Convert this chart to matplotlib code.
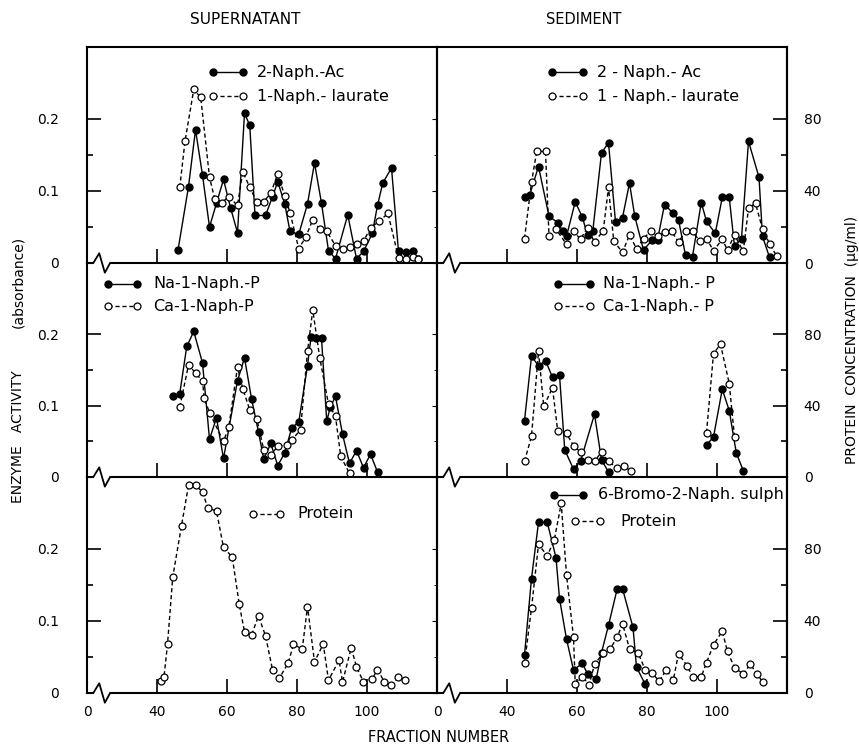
#!/usr/bin/env python3

"""
Enzyme activity and protein concentration of the supernatant and sediment
fractions, plotted against the fraction number.
"""

import matplotlib
matplotlib.use("Agg")
import matplotlib.pyplot as plt

# Supernatant, 2-Naph.-Ac (absorbance)
sup_ac_x = [46, 49, 51, 53, 55, 57, 59, 61, 63, 65, 66.5, 68, 71, 73, 74.5,
            76.5, 78, 80.5, 83, 85, 87, 89, 91, 94.5, 97, 99, 101.5, 103,
            104.5, 107, 109, 111, 113, 114.5]
sup_ac_y = [.018, .106, .185, .122, .050, .083, .116, .077, .042, .208, .191,
            .066, .066, .092, .113, .082, .044, .040, .082, .139, .083, .017,
            .006, .067, .006, .016, .041, .080, .111, .132, .016, .015, .016,
            .006]

# Supernatant, 1-Naph.-laurate
sup_lau_x = [46.5, 48, 50.5, 52.5, 55, 56.5, 58.5, 60.5, 63, 64.5, 66.5,
             68.5, 70.5, 72.5, 74.5, 76.5, 78, 80.5, 82.5, 84.5, 86.5, 88.5,
             91, 93, 95, 97, 99, 101, 103.5, 106, 109, 111, 113, 114.5]
sup_lau_y = [.105, .169, .241, .230, .119, .089, .084, .092, .080, .127, .105,
             .085, .085, .097, .124, .093, .070, .020, .036, .060, .047, .044,
             .024, .020, .022, .027, .030, .049, .058, .069, .007, .006, .008,
             .006]

# Sediment, 2-Naph.-Ac
sed_ac_x = [45, 46.5, 49, 52, 54.5, 56, 57, 59.5, 61.5, 63, 64.5, 67, 69, 71,
            73, 75, 76.5, 79, 81.5, 83, 85, 87.5, 89, 91, 93, 95.5, 97, 99.5,
            101.5, 103.5, 105, 107, 109, 112, 113, 115]
sed_ac_y = [.092, .095, .134, .065, .056, .044, .037, .085, .064, .039, .044,
            .153, .167, .057, .063, .111, .065, .018, .032, .032, .081, .069,
            .060, .011, .009, .084, .058, .041, .091, .091, .023, .034, .169,
            .119, .037, .008]

# Sediment, 1-Naph.-laurate
sed_lau_x = [45, 47, 48.5, 51, 52, 54, 57, 59, 61, 63, 65, 67.5, 69, 70.5,
             73, 75, 77, 79, 81, 83, 85, 87, 89, 91, 93, 95, 97, 99, 101.5,
             103, 105, 107.5, 109, 111, 113, 115, 117]
sed_lau_y = [.034, .112, .155, .155, .038, .047, .026, .044, .033, .049, .029,
             .045, .105, .030, .015, .039, .020, .034, .044, .037, .043, .044,
             .029, .044, .044, .031, .034, .017, .033, .018, .039, .016, .076,
             .083, .047, .027, .010]

# Supernatant, Na-1-Naph-P
sup_na_x = [44.5, 46.5, 48.5, 50.5, 53, 55, 57, 59, 63, 65, 67, 69, 70.5,
            72.5, 74.5, 76.5, 78.5, 80.5, 83, 84, 85.5, 87, 88.5, 89.5, 91, 93,
            95, 97, 99, 101, 103]
sup_na_y = [.114, .117, .183, .204, .160, .053, .083, .026, .135, .167, .110,
            .063, .025, .047, .016, .034, .069, .077, .156, .196, .195, .195,
            .078, .098, .113, .060, .019, .037, .013, .032, .007]

# Supernatant, Ca-1-Naph-P
sup_ca_x = [46.5, 49, 51, 53, 53.5, 55, 59, 60.5, 63, 64.5, 66.5, 68.5, 70.5,
            72.5, 74.5, 77, 78.5, 81, 83, 84.5, 86.5, 89, 91, 92.5, 95]
sup_ca_y = [.098, .157, .146, .134, .111, .090, .050, .070, .154, .124, .094,
            .082, .038, .031, .043, .045, .052, .066, .176, .234, .167, .102,
            .085, .029, .005]

# Sediment, Na-1-Naph.-P (None = not measured, breaks the line)
sed_na_x = [45, 47, 49, 51, 53, 55, 56.5, 59, 61, 65, 67, 69, 83,
            97, 99, 101.5, 103.5, 105.5, 107.5]
sed_na_y = [.079, .169, .156, .163, .140, .143, .038, .011, .022, .088, .024,
            .007, None, .045, .056, .123, .093, .034, .009]

# Sediment, Ca-1-Naph.-P
sed_ca_x = [45, 47, 49, 50.5, 53, 54.5, 57, 59, 61, 63, 65, 67, 69, 71.5,
            73.5, 75.5, 86, 97, 99, 101, 103.5, 105]
sed_ca_y = [.022, .057, .176, .099, .125, .064, .061, .044, .035, .024, .022,
            .035, .022, .012, .015, .008, None, .062, .173, .186, .131, .056]

# Supernatant, protein (ug/ml)
sup_prot_x = [41, 42, 43, 44.5, 47, 49, 51, 53, 54.5, 57, 59, 61.5, 63.5, 65,
              67, 69, 71, 73, 75, 77.5, 79, 81.5, 83, 85, 87.5, 89, 92, 93,
              95.5, 97, 99, 101.5, 103, 105, 107, 109, 111]
sup_prot_y = [6.7, 8.9, 27.0, 64.4, 93.0, 115.3, 115.3, 111.8, 102.9, 101.0,
              80.9, 75.5, 49.3, 34.0, 32.2, 42.8, 31.8, 13.0, 8.4, 16.7, 27.0,
              24.4, 48.0, 17.3, 27.2, 7.1, 18.2, 6.1, 25.1, 14.5, 6.1, 8.0,
              13.0, 6.1, 4.7, 8.9, 7.1]

# Sediment, 6-Bromo-2-Naph. sulph (absorbance)
sed_br_x = [45, 47, 49, 51.5, 54, 55, 57, 59, 61.5, 63, 65.5, 67, 69, 71.5,
            73, 76, 77, 79.5]
sed_br_y = [.053, .159, .237, .237, .188, .131, .075, .032, .041, .027, .020,
            .056, .094, .145, .145, .091, .036, .012]

# Sediment, protein (ug/ml)
sed_prot_x = [45, 47, 49, 51.5, 53.5, 55.5, 57, 59, 59.5, 61.5, 63.5, 65,
              67.5, 69.5, 71.5, 73, 75, 77.5, 79.5, 81.5, 83.5, 85.5, 87.5,
              89, 91.5, 93, 95.5, 97, 99, 101.5, 103, 105, 107.5, 109.5,
              111.5, 113]
sed_prot_y = [16.5, 47.1, 82.6, 76.2, 85.0, 105.3, 65.7, 31.0, 4.9, 9.0, 4.7,
              16.0, 22.1, 24.6, 31.0, 38.5, 24.6, 22.1, 12.8, 10.9, 6.6, 12.8,
              7.1, 21.8, 15.0, 9.0, 9.0, 16.9, 26.8, 34.3, 23.1, 14.1, 10.5,
              15.9, 10.5, 6.2]

x_ticks = [20, 40, 60, 80, 100]
x_tick_labels = ["0", "40", "60", "80", "100"]
abs_ticks = [0, 0.1, 0.2]
abs_tick_labels = ["0", "0.1", "0.2"]
prot_ticks = [0, 40, 80]

FILLED = dict(color="black", lw=1.0, ls="-", marker="o", ms=5,
              mfc="black", mec="black")
HOLLOW = dict(color="black", lw=1.0, ls=(0, (3, 2)), marker="o", ms=5,
              mfc="white", mec="black", mew=0.9)

W, H = 859, 748


def nan(values):
    return [float("nan") if v is None else v for v in values]


def add_key(ax, x0, x1, xt, y, label, style):
    ax.plot([x0, x1], [y, y], transform=ax.transAxes, clip_on=False, **style)
    ax.text(xt, y, label, transform=ax.transAxes, va="center",
            fontsize=11.5, clip_on=True)


def draw_break(ax):
    # zigzag on the bottom axis marking the gap between 0 and 40
    trans = ax.get_xaxis_transform()
    ax.plot([21.8, 26.6], [0, 0], color="white", lw=3, transform=trans,
            clip_on=False, zorder=5, solid_capstyle="butt")
    ax.plot([21.8, 23.5, 25.1, 26.6], [0, 0.045, -0.045, 0], color="black",
            lw=1.3, transform=trans, clip_on=False, zorder=6)


def setup_panel(fig, col, row):
    lefts = [87, 437]
    rows = [(47, 263), (263, 477), (477, 693)]
    top, bot = rows[row]
    ax = fig.add_axes([lefts[col] / W, 1 - bot / H, 350 / W, (bot - top) / H])
    # no white background, so the zigzag of the panel above stays visible
    ax.patch.set_visible(False)

    ax.set_xlim(20, 120)
    ax.set_ylim(0, 0.3)
    ax.set_xticks(x_ticks)
    ax.set_xticklabels(x_tick_labels)
    ax.tick_params(axis="x", direction="in", length=10, width=1.2, pad=9,
                   labelsize=10, labelbottom=(row == 2))

    ax.set_yticks(abs_ticks)
    ax.set_yticklabels(abs_tick_labels)
    ax.set_yticks([0.05, 0.15], minor=True)
    if col == 0:
        ax.tick_params(axis="y", which="major", direction="in", length=10,
                       width=1.2, pad=20, labelsize=10)
        ax.tick_params(axis="y", which="minor", direction="in", length=4.5,
                       width=1.2)
    else:
        ax.tick_params(axis="y", which="both", left=False, labelleft=False)

    for name, spine in ax.spines.items():
        spine.set_linewidth(1.5)
    if row > 0:
        ax.spines["top"].set_visible(False)

    # protein axis (ug/ml); 80 ug/ml matches 0.2 absorbance
    twin = ax.twinx()
    twin.set_ylim(0, 120)
    for name in ["top", "bottom", "left"]:
        twin.spines[name].set_visible(False)
    twin.spines["right"].set_linewidth(1.5)
    if col == 1:
        twin.set_yticks(prot_ticks)
        twin.set_yticks([20, 60], minor=True)
        twin.tick_params(axis="y", which="major", direction="in", length=10,
                         width=1.2, pad=12, labelsize=10)
        twin.tick_params(axis="y", which="minor", direction="in", length=4.5,
                         width=1.2)
    else:
        twin.set_yticks([])
        twin.spines["right"].set_visible(False)

    draw_break(ax)
    return ax, twin


def main():
    fig = plt.figure(figsize=(W / 100, H / 100), dpi=100)

    # Top row: 2-Naph.-Ac and 1-Naph.-laurate
    ax, tw = setup_panel(fig, 0, 0)
    ax.plot(sup_ac_x, sup_ac_y, **FILLED)
    ax.plot(sup_lau_x, sup_lau_y, **HOLLOW)
    add_key(ax, 0.36, 0.446, 0.486, 0.884, "2-Naph.-Ac", FILLED)
    add_key(ax, 0.36, 0.446, 0.486, 0.773, "1-Naph.- laurate", HOLLOW)

    ax, tw = setup_panel(fig, 1, 0)
    ax.plot(sed_ac_x, sed_ac_y, **FILLED)
    ax.plot(sed_lau_x, sed_lau_y, **HOLLOW)
    add_key(ax, 0.329, 0.417, 0.457, 0.884, "2 - Naph.- Ac", FILLED)
    add_key(ax, 0.329, 0.417, 0.457, 0.773, "1 - Naph.- laurate", HOLLOW)

    # Middle row: Na- and Ca-1-Naph-P
    ax, tw = setup_panel(fig, 0, 1)
    ax.plot(sup_na_x, sup_na_y, **FILLED)
    ax.plot(sup_ca_x, sup_ca_y, **HOLLOW)
    add_key(ax, 0.06, 0.143, 0.189, 0.902, "Na-1-Naph.-P", FILLED)
    add_key(ax, 0.06, 0.143, 0.189, 0.799, "Ca-1-Naph-P", HOLLOW)

    ax, tw = setup_panel(fig, 1, 1)
    ax.plot(sed_na_x, nan(sed_na_y), **FILLED)
    ax.plot(sed_ca_x, nan(sed_ca_y), **HOLLOW)
    add_key(ax, 0.346, 0.437, 0.474, 0.902, "Na-1-Naph.- P", FILLED)
    add_key(ax, 0.346, 0.437, 0.474, 0.799, "Ca-1-Naph.- P", HOLLOW)

    # Bottom row: protein (and 6-Bromo-2-Naph. sulph for the sediment)
    ax, tw = setup_panel(fig, 0, 2)
    tw.plot(sup_prot_x, sup_prot_y, **HOLLOW)
    add_key(ax, 0.474, 0.551, 0.60, 0.829, "Protein", HOLLOW)

    ax, tw = setup_panel(fig, 1, 2)
    ax.plot(sed_br_x, sed_br_y, **FILLED)
    tw.plot(sed_prot_x, sed_prot_y, **HOLLOW)
    add_key(ax, 0.334, 0.417, 0.46, 0.917, "6-Bromo-2-Naph. sulph", FILLED)
    add_key(ax, 0.394, 0.466, 0.523, 0.796, "Protein", HOLLOW)

    fig.text(245 / W, 1 - 19 / H, "SUPERNATANT", ha="center", va="center",
             fontsize=11)
    fig.text(584 / W, 1 - 19 / H, "SEDIMENT", ha="center", va="center",
             fontsize=10.5)
    fig.text(439 / W, 1 - 738 / H, "FRACTION NUMBER", ha="center",
             va="center", fontsize=10.5)
    fig.text(18 / W, 1 - 437 / H, "ENZYME   ACTIVITY", rotation=90,
             ha="center", va="center", fontsize=10)
    fig.text(18 / W, 1 - 282 / H, "(absorbance)", rotation=90,
             ha="center", va="center", fontsize=10)
    fig.text(852 / W, 1 - 340 / H, "PROTEIN  CONCENTRATION  (\u00b5g/ml)",
             rotation=90, ha="center", va="center", fontsize=10)

    fig.savefig("out.png", dpi=100, facecolor="white")


if __name__ == "__main__":
    main()
